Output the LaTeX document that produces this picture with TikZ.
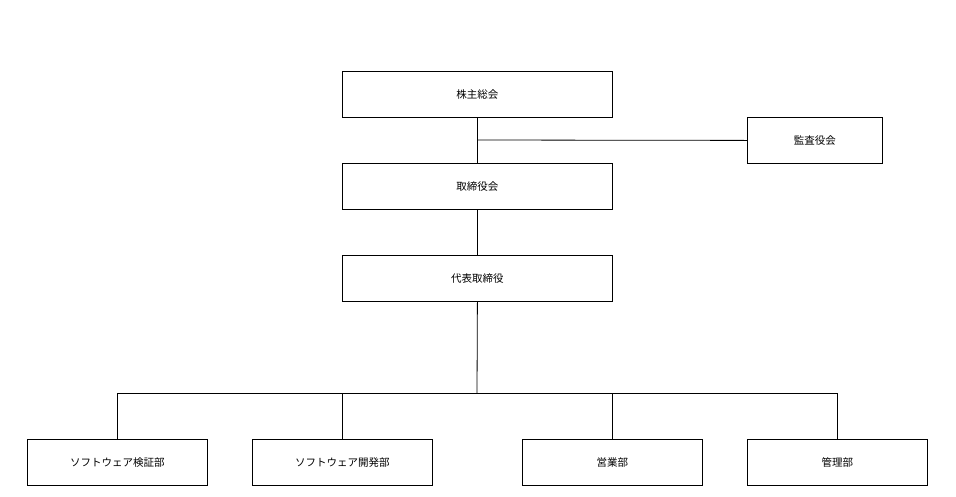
\documentclass[tikz,border=0pt]{standalone}
\usepackage{fontspec}
\newfontfamily\cjk{Noto Sans CJK JP}
\begin{document}
\begin{tikzpicture}[x=1pt,y=-1pt,line width=0.8pt,
  box/.style={draw,minimum height=46pt,inner sep=0pt,font=\cjk\fontsize{10.5}{12}\selectfont,anchor=north west}]
\useasboundingbox (0,0) rectangle (956,496);
\node[box,minimum width=270pt] (a) at (342,71) {株主総会};
\node[box,minimum width=135pt] (k) at (747,117) {監査役会};
\node[box,minimum width=270pt] (b) at (342,163) {取締役会};
\node[box,minimum width=270pt] (c) at (342,255) {代表取締役};
\node[box,minimum width=180pt] (d1) at (27,439) {ソフトウェア検証部};
\node[box,minimum width=180pt] (d2) at (252,439) {ソフトウェア開発部};
\node[box,minimum width=180pt] (d3) at (522,439) {営業部};
\node[box,minimum width=180pt] (d4) at (747,439) {管理部};
\draw (a.south) -- (b.north);
\draw (477,140) -- (k.west);
\draw (b.south) -- (c.north);
\coordinate (j) at (477,393);
\draw (c.south) -- (j);
\foreach \n in {d1,d2,d3,d4} \draw (j) -| (\n.north);
\end{tikzpicture}
\end{document}
